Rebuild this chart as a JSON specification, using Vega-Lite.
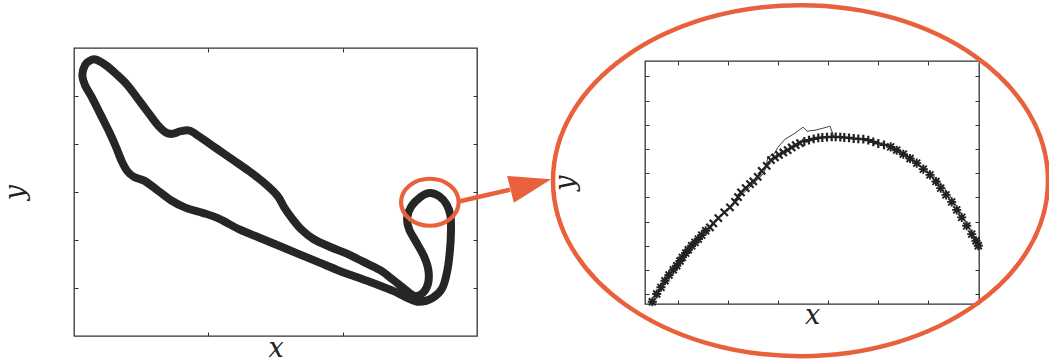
{
  "$schema": "https://vega.github.io/schema/vega-lite/v6.json",
  "autosize": {"type": "none"},
  "padding": {"left": 74, "top": 48, "right": 975, "bottom": 312},
  "background": "white",
  "config": {
    "view": {"stroke": "#333333", "strokeWidth": 1.3},
    "axis": {
      "grid": false, "domain": false, "labels": false,
      "tickSize": -4, "tickColor": "#333333", "tickWidth": 1
    }
  },
  "datasets": {
    "markers": [
      {"x":0.480,"y":0.682,"k":"a"},{"x":0.568,"y":1.000,"k":"a"},{"x":0.654,"y":1.277,"k":"a"},{"x":0.734,"y":1.550,"k":"a"},
      {"x":0.814,"y":1.785,"k":"a"},{"x":0.900,"y":2.004,"k":"a"},{"x":0.968,"y":2.169,"k":"a"},{"x":1.034,"y":2.364,"k":"a"},
      {"x":1.080,"y":2.517,"k":"a"},{"x":1.148,"y":2.694,"k":"a"},{"x":1.200,"y":2.831,"k":"a"},{"x":1.268,"y":2.996,"k":"a"},
      {"x":1.334,"y":3.136,"k":"a"},{"x":1.400,"y":3.273,"k":"a"},{"x":1.468,"y":3.438,"k":"a"},{"x":1.548,"y":3.616,"k":"a"},
      {"x":1.634,"y":3.756,"k":"x"},{"x":1.700,"y":3.921,"k":"x"},{"x":1.800,"y":4.140,"k":"x"},{"x":1.920,"y":4.376,"k":"x"},
      {"x":2.034,"y":4.583,"k":"x"},{"x":2.134,"y":4.814,"k":"x"},{"x":2.194,"y":5.008,"k":"x"},{"x":2.254,"y":5.202,"k":"x"},
      {"x":2.348,"y":5.380,"k":"x"},{"x":2.434,"y":5.545,"k":"x"},{"x":2.500,"y":5.657,"k":"x"},{"x":2.588,"y":5.847,"k":"x"},
      {"x":2.668,"y":6.095,"k":"x"},{"x":2.768,"y":6.302,"k":"x"},{"x":2.854,"y":6.537,"k":"x"},{"x":2.934,"y":6.649,"k":"x"},
      {"x":3.014,"y":6.756,"k":"x"},{"x":3.100,"y":6.855,"k":"x"},{"x":3.188,"y":6.950,"k":"x"},{"x":3.268,"y":7.062,"k":"x"},
      {"x":3.348,"y":7.157,"k":"x"},{"x":3.434,"y":7.240,"k":"x"},{"x":3.520,"y":7.310,"k":"p"},{"x":3.614,"y":7.364,"k":"p"},
      {"x":3.708,"y":7.417,"k":"p"},{"x":3.800,"y":7.459,"k":"p"},{"x":3.880,"y":7.475,"k":"p"},{"x":3.974,"y":7.488,"k":"p"},
      {"x":4.068,"y":7.500,"k":"p"},{"x":4.148,"y":7.500,"k":"p"},{"x":4.240,"y":7.488,"k":"p"},{"x":4.320,"y":7.475,"k":"p"},
      {"x":4.414,"y":7.459,"k":"p"},{"x":4.508,"y":7.434,"k":"p"},{"x":4.600,"y":7.417,"k":"p"},{"x":4.700,"y":7.405,"k":"p"},
      {"x":4.800,"y":7.364,"k":"p"},{"x":4.900,"y":7.293,"k":"p"},{"x":5.000,"y":7.227,"k":"p"},{"x":5.114,"y":7.169,"k":"p"},
      {"x":5.248,"y":7.087,"k":"a"},{"x":5.368,"y":6.950,"k":"a"},{"x":5.500,"y":6.785,"k":"a"},{"x":5.634,"y":6.607,"k":"a"},
      {"x":5.768,"y":6.413,"k":"a"},{"x":5.900,"y":6.165,"k":"a"},{"x":6.034,"y":5.930,"k":"a"},{"x":6.154,"y":5.657,"k":"a"},
      {"x":6.248,"y":5.380,"k":"a"},{"x":6.354,"y":5.103,"k":"a"},{"x":6.468,"y":4.814,"k":"a"},{"x":6.568,"y":4.483,"k":"a"},
      {"x":6.668,"y":4.169,"k":"a"},{"x":6.768,"y":3.822,"k":"a"},{"x":6.868,"y":3.479,"k":"a"},{"x":6.954,"y":3.202,"k":"a"},
      {"x":7.000,"y":2.996,"k":"a"}
    ]
  },
  "spacing": 168,
  "bounds": "flush",
  "hconcat": [
    {
      "width": 403,
      "height": 288,
      "layer": [
        {
          "data": {"values": [
            {"i":1,"x":0.157,"y":5.761},{"i":2,"x":0.236,"y":5.643},{"i":3,"x":0.323,"y":5.436},{"i":4,"x":0.398,"y":5.228},
            {"i":5,"x":0.473,"y":4.952},{"i":6,"x":0.547,"y":4.675},{"i":7,"x":0.622,"y":4.398},{"i":8,"x":0.684,"y":4.239},
            {"i":9,"x":0.734,"y":4.212},{"i":10,"x":0.796,"y":4.267},{"i":11,"x":0.858,"y":4.281},{"i":12,"x":0.933,"y":4.156},
            {"i":13,"x":1.057,"y":3.914},{"i":14,"x":1.182,"y":3.672},{"i":15,"x":1.306,"y":3.430},{"i":16,"x":1.430,"y":3.154},
            {"i":17,"x":1.517,"y":2.911},{"i":18,"x":1.567,"y":2.669},{"i":19,"x":1.629,"y":2.427},{"i":20,"x":1.692,"y":2.220},
            {"i":21,"x":1.779,"y":2.026},{"i":22,"x":1.903,"y":1.860},{"i":23,"x":2.027,"y":1.722},{"i":24,"x":2.152,"y":1.549},
            {"i":25,"x":2.276,"y":1.376},{"i":26,"x":2.376,"y":1.169},{"i":27,"x":2.463,"y":0.975},{"i":28,"x":2.537,"y":0.837},
            {"i":29,"x":2.600,"y":0.906},{"i":30,"x":2.637,"y":1.113},{"i":31,"x":2.637,"y":1.390},{"i":32,"x":2.604,"y":1.667},
            {"i":33,"x":2.550,"y":1.943},{"i":34,"x":2.495,"y":2.220},{"i":35,"x":2.480,"y":2.462},{"i":36,"x":2.512,"y":2.704},
            {"i":37,"x":2.580,"y":2.898},{"i":38,"x":2.649,"y":2.981},{"i":39,"x":2.719,"y":2.911},{"i":40,"x":2.774,"y":2.739},
            {"i":41,"x":2.803,"y":2.497},{"i":42,"x":2.806,"y":2.151},{"i":43,"x":2.799,"y":1.805},{"i":44,"x":2.781,"y":1.390},
            {"i":45,"x":2.744,"y":1.010},{"i":46,"x":2.674,"y":0.802},{"i":47,"x":2.570,"y":0.712},{"i":48,"x":2.475,"y":0.802},
            {"i":49,"x":2.376,"y":0.941},{"i":50,"x":2.251,"y":1.079},{"i":51,"x":2.114,"y":1.217},{"i":52,"x":1.978,"y":1.355},
            {"i":53,"x":1.828,"y":1.528},{"i":54,"x":1.679,"y":1.701},{"i":55,"x":1.530,"y":1.874},{"i":56,"x":1.381,"y":2.047},
            {"i":57,"x":1.231,"y":2.220},{"i":58,"x":1.082,"y":2.441},{"i":59,"x":0.958,"y":2.566},{"i":60,"x":0.833,"y":2.669},
            {"i":61,"x":0.721,"y":2.828},{"i":62,"x":0.609,"y":3.064},{"i":63,"x":0.522,"y":3.237},{"i":64,"x":0.448,"y":3.313},
            {"i":65,"x":0.398,"y":3.430},{"i":66,"x":0.356,"y":3.638},{"i":67,"x":0.311,"y":3.949},{"i":68,"x":0.261,"y":4.260},
            {"i":69,"x":0.199,"y":4.606},{"i":70,"x":0.137,"y":4.952},{"i":71,"x":0.082,"y":5.228},{"i":72,"x":0.062,"y":5.436},
            {"i":73,"x":0.082,"y":5.643},{"i":74,"x":0.117,"y":5.733}
          ]},
          "mark": {"type": "line", "interpolate": "cardinal-closed", "stroke": "#262626", "strokeWidth": 8, "strokeJoin": "round", "clip": false},
          "encoding": {
            "x": {"field": "x", "type": "quantitative", "scale": {"domain": [0, 3], "nice": false, "zero": false},
                  "axis": {"orient": "bottom", "values": [1, 2], "title": "x", "titleBaseline": "alphabetic", "titlePadding": 20,
                           "titleFont": "DejaVu Serif", "titleFontStyle": "italic", "titleFontWeight": "normal", "titleFontSize": 27, "titleColor": "#222222"}},
            "y": {"field": "y", "type": "quantitative", "scale": {"domain": [0, 6], "nice": false, "zero": false},
                  "axis": {"orient": "left", "values": [1, 2, 3, 4, 5], "title": "y", "titleBaseline": "alphabetic", "titlePadding": 50,
                           "titleFont": "DejaVu Serif", "titleFontStyle": "italic", "titleFontWeight": "normal", "titleFontSize": 27, "titleColor": "#222222"}},
            "order": {"field": "i", "type": "quantitative"}
          }
        },
        {
          "data": {"values": [{"x": 1.5, "y": 3}]},
          "mark": {"type": "point", "opacity": 0},
          "encoding": {
            "x": {"field": "x", "type": "quantitative", "scale": {"domain": [0, 3], "nice": false, "zero": false},
                  "axis": {"orient": "top", "values": [1, 2], "title": null}},
            "y": {"field": "y", "type": "quantitative", "scale": {"domain": [0, 6], "nice": false, "zero": false},
                  "axis": {"orient": "right", "values": [1, 2, 3, 4, 5], "title": null}}
          }
        },
        {
          "data": {"values": [{"x": 2.873, "y": 2.807, "x2": 3.246, "y2": 3.05}]},
          "mark": {"type": "rule", "stroke": "#E8613C", "strokeWidth": 4.5, "clip": false},
          "encoding": {
            "x": {"field": "x", "type": "quantitative", "scale": {"domain": [0, 3], "nice": false, "zero": false}, "axis": null},
            "y": {"field": "y", "type": "quantitative", "scale": {"domain": [0, 6], "nice": false, "zero": false}, "axis": null},
            "x2": {"field": "x2"},
            "y2": {"field": "y2"}
          }
        },
        {
          "data": {"values": [{"x": 3.401, "y": 3.16}]},
          "mark": {"type": "point", "shape": "M1,0L-1,-0.66L-1,0.66Z", "size": 1764, "angle": 346, "filled": true, "fill": "#E8613C", "opacity": 1, "strokeWidth": 0, "clip": false},
          "encoding": {
            "x": {"field": "x", "type": "quantitative", "scale": {"domain": [0, 3], "nice": false, "zero": false}, "axis": null},
            "y": {"field": "y", "type": "quantitative", "scale": {"domain": [0, 6], "nice": false, "zero": false}, "axis": null}
          }
        },
        {
          "data": {"values": [{"x": 2.649, "y": 2.786}]},
          "mark": {"type": "point", "shape": "M-1,0A1,0.816,0,1,1,1,0A1,0.816,0,1,1,-1,0Z", "size": 3318, "filled": false, "stroke": "#E8613C", "strokeWidth": 4.2, "opacity": 1, "clip": false},
          "encoding": {
            "x": {"field": "x", "type": "quantitative", "scale": {"domain": [0, 3], "nice": false, "zero": false}, "axis": null},
            "y": {"field": "y", "type": "quantitative", "scale": {"domain": [0, 6], "nice": false, "zero": false}, "axis": null}
          }
        }
      ],
      "resolve": {"axis": {"x": "independent", "y": "independent"}}
    },
    {
      "spacing": 0,
      "bounds": "flush",
      "vconcat": [
        {
          "width": 334,
          "height": 13,
          "view": {"stroke": null},
          "data": {"values": [{"a": 1}]},
          "mark": {"type": "point", "opacity": 0},
          "encoding": {}
        },
        {
          "width": 334,
          "height": 243,
          "layer": [
            {
              "data": {"values": [
                {"i":1,"x":0.474,"y":0.669},{"i":2,"x":0.734,"y":1.537},{"i":3,"x":1.034,"y":2.364},{"i":4,"x":1.334,"y":3.128},
                {"i":5,"x":1.634,"y":3.769},{"i":6,"x":1.934,"y":4.388},{"i":7,"x":2.234,"y":5.050},{"i":8,"x":2.474,"y":5.504},
                {"i":9,"x":2.574,"y":5.711},{"i":10,"x":2.694,"y":5.959},{"i":11,"x":2.734,"y":6.124},{"i":12,"x":2.794,"y":6.661},
                {"i":13,"x":2.914,"y":6.785},{"i":14,"x":2.994,"y":7.074},{"i":15,"x":3.134,"y":7.405},{"i":16,"x":3.334,"y":7.653},
                {"i":17,"x":3.494,"y":7.901},{"i":18,"x":3.574,"y":7.736},{"i":19,"x":3.734,"y":7.777},{"i":20,"x":3.894,"y":7.860},
                {"i":21,"x":4.034,"y":7.942},{"i":22,"x":4.114,"y":7.488},{"i":23,"x":4.334,"y":7.475},{"i":24,"x":4.634,"y":7.417},
                {"i":25,"x":4.934,"y":7.302},{"i":26,"x":5.234,"y":7.095},{"i":27,"x":5.534,"y":6.764},{"i":28,"x":5.834,"y":6.331},
                {"i":29,"x":6.074,"y":5.938},{"i":30,"x":6.234,"y":5.628},{"i":31,"x":6.394,"y":5.174},{"i":32,"x":6.534,"y":4.740},
                {"i":33,"x":6.674,"y":4.264},{"i":34,"x":6.794,"y":3.810},{"i":35,"x":6.914,"y":3.355},{"i":36,"x":6.994,"y":3.004}
              ]},
              "mark": {"type": "line", "stroke": "#444444", "strokeWidth": 1, "clip": false},
              "encoding": {
                "x": {"field": "x", "type": "quantitative", "scale": {"domain": [0.334, 7.014], "nice": false, "zero": false},
                      "axis": {"orient": "bottom", "values": [1, 2, 3, 4, 5, 6], "title": "x", "titleBaseline": "alphabetic", "titlePadding": 19,
                               "titleFont": "DejaVu Serif", "titleFontStyle": "italic", "titleFontWeight": "normal", "titleFontSize": 27, "titleColor": "#222222"}},
                "y": {"field": "y", "type": "quantitative", "scale": {"domain": [0.587, 10.64], "nice": false, "zero": false},
                      "axis": {"orient": "left", "values": [1, 2, 3, 4, 5, 6, 7, 8, 9, 10], "title": "y", "titleBaseline": "alphabetic", "titlePadding": 71,
                               "titleFont": "DejaVu Serif", "titleFontStyle": "italic", "titleFontWeight": "normal", "titleFontSize": 27, "titleColor": "#222222"}},
                "order": {"field": "i", "type": "quantitative"}
              }
            },
            {
              "data": {"name": "markers"},
              "transform": [{"filter": "datum.k == 'a'"}],
              "mark": {"type": "point", "shape": "M-1,-1L1,1M-1,1L1,-1M0,-1.3L0,1.3M-1.3,0L1.3,0", "filled": false, "stroke": "#222222", "strokeWidth": 1.9, "size": 49, "opacity": 1, "clip": false},
              "encoding": {
                "x": {"field": "x", "type": "quantitative", "scale": {"domain": [0.334, 7.014], "nice": false, "zero": false},
                      "axis": {"orient": "top", "values": [1, 2, 3, 4, 5, 6], "title": null}},
                "y": {"field": "y", "type": "quantitative", "scale": {"domain": [0.587, 10.64], "nice": false, "zero": false},
                      "axis": {"orient": "right", "values": [1, 2, 3, 4, 5, 6, 7, 8, 9, 10], "title": null}}
              }
            },
            {
              "data": {"name": "markers"},
              "transform": [{"filter": "datum.k == 'x'"}],
              "mark": {"type": "point", "shape": "M-1,-1L1,1M-1,1L1,-1", "filled": false, "stroke": "#222222", "strokeWidth": 2.2, "size": 52, "opacity": 1, "clip": false},
              "encoding": {
                "x": {"field": "x", "type": "quantitative", "scale": {"domain": [0.334, 7.014], "nice": false, "zero": false}, "axis": null},
                "y": {"field": "y", "type": "quantitative", "scale": {"domain": [0.587, 10.64], "nice": false, "zero": false}, "axis": null}
              }
            },
            {
              "data": {"name": "markers"},
              "transform": [{"filter": "datum.k == 'p'"}],
              "mark": {"type": "point", "shape": "M0,-1.3L0,1.3M-1.3,0L1.3,0", "filled": false, "stroke": "#222222", "strokeWidth": 2.2, "size": 46, "opacity": 1, "clip": false},
              "encoding": {
                "x": {"field": "x", "type": "quantitative", "scale": {"domain": [0.334, 7.014], "nice": false, "zero": false}, "axis": null},
                "y": {"field": "y", "type": "quantitative", "scale": {"domain": [0.587, 10.64], "nice": false, "zero": false}, "axis": null}
              }
            },
            {
              "data": {"values": [{"x": 3.444, "y": 5.69}]},
              "mark": {"type": "point", "shape": "M-1,0A1,0.709,0,1,1,1,0A1,0.709,0,1,1,-1,0Z", "size": 245025, "filled": false, "stroke": "#E8613C", "strokeWidth": 4.5, "opacity": 1, "clip": false},
              "encoding": {
                "x": {"field": "x", "type": "quantitative", "scale": {"domain": [0.334, 7.014], "nice": false, "zero": false}, "axis": null},
                "y": {"field": "y", "type": "quantitative", "scale": {"domain": [0.587, 10.64], "nice": false, "zero": false}, "axis": null}
              }
            }
          ],
          "resolve": {"axis": {"x": "independent", "y": "independent"}}
        }
      ]
    }
  ]
}
